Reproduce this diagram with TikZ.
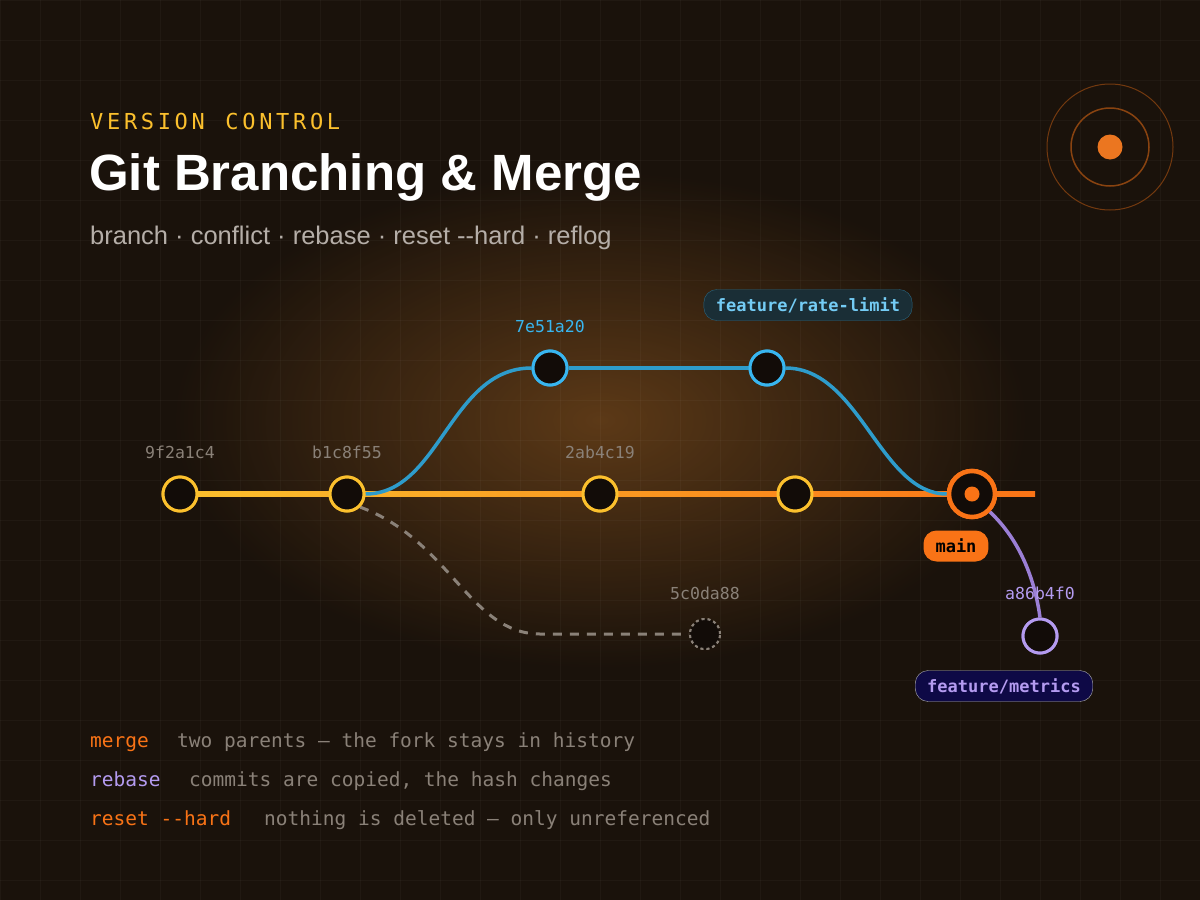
\documentclass[tikz,border=0pt]{standalone}
\usepackage{fontspec}
\setmainfont{Liberation Sans}
\setmonofont{DejaVu Sans Mono}
\usetikzlibrary{shadings}
\definecolor{bg}{HTML}{1A120B}
\definecolor{yel}{HTML}{FBC02D}
\definecolor{org}{HTML}{F97316}
\definecolor{blu}{HTML}{38B6F0}
\definecolor{bluL}{HTML}{2E9CCB}
\definecolor{pur}{HTML}{B49BF0}
\definecolor{purL}{HTML}{9B7FD6}
\definecolor{gry}{HTML}{8A8178}
\definecolor{subc}{HTML}{B5AEA8}
\definecolor{fillc}{HTML}{120C08}
\begin{document}
\begin{tikzpicture}[x=1pt,y=-1pt,
 commit/.style={circle,draw=#1,line width=3pt,fill=fillc,minimum size=34pt,inner sep=0pt},
 hash/.style={font=\ttfamily\fontsize{16.5}{19}\selectfont,text=#1},
 pill/.style={rounded corners=13pt,font=\ttfamily\bfseries\fontsize{17}{20}\selectfont,inner xsep=12pt,minimum height=31pt}]
\useasboundingbox (0,0) rectangle (1200,900);
\fill[bg] (0,0) rectangle (1200,900);
\shade[inner color=orange!30!brown!60!bg, outer color=bg, opacity=0.6] (600,420) ellipse (430 and 250);
\foreach \i in {0,40,...,1200}{\draw[white,opacity=0.03] (\i,0)--(\i,900);}
\foreach \i in {0,40,...,900}{\draw[white,opacity=0.03] (0,\i)--(1200,\i);}
% titles
\node[anchor=west,text=yel,font=\fontsize{22}{26}\selectfont\ttfamily,inner sep=0pt] (kick) at (90,121) {V\,E\,R\,S\,I\,O\,N\, \,C\,O\,N\,T\,R\,O\,L};
\node[anchor=west,text=white,font=\fontsize{51}{56}\selectfont\bfseries,inner sep=0pt] (title) at (89,177) {Git Branching \& Merge};
\node[anchor=west,text=subc,font=\fontsize{25.5}{28}\selectfont,inner sep=0pt] (sub) at (90,238) {branch · conflict · rebase · reset -{}-hard · reflog};
% target
\node[circle,draw=org!40!bg,line width=1pt,minimum size=126pt] (t1) at (1110,147) {};
\node[circle,draw=org!50!bg,line width=1.5pt,minimum size=78pt] (t2) at (1110,147) {};
\node[circle,fill=org!75!brown,minimum size=25pt,inner sep=0pt] (t3) at (1110,147) {};
% nodes
\node[commit=yel] (c1) at (180,494) {};
\node[commit=yel] (c2) at (347,494) {};
\node[commit=yel] (c3) at (600,494) {};
\node[commit=yel] (c4) at (795,494) {};
\node[commit=blu] (b1) at (550,368) {};
\node[commit=blu] (b2) at (767,368) {};
\node[circle,draw=gry,dashed,line width=2pt,fill=fillc,minimum size=30pt] (d1) at (705,634) {};
\node[commit=pur] (p1) at (1040,636) {};
\node[circle,draw=org,line width=4.5pt,fill=fillc,minimum size=46pt,inner sep=0pt] (m) at (972,494) {};
\coordinate (e) at (1035,494);
% edges
\shade[left color=yel,right color=org] (180,491.5) rectangle (1035,496.5);
\draw[bluL,line width=3.5pt] (c2.east) .. controls (440,494) and (450,368) .. (b1.west);
\draw[bluL,line width=3.5pt] (b1) -- (b2);
\draw[bluL,line width=3.5pt] (b2.east) .. controls (860,368) and (880,494) .. (m.west);
\draw[gry,line width=3pt,dash pattern=on 9pt off 8pt] (c2.south east) .. controls (450,540) and (470,634) .. (540,634) -- (d1.west);
\draw[purL,line width=3.5pt] (m.south east) .. controls (1020,540) and (1035,580) .. (p1.north);
% redraw commits on top
\foreach \n in {c1,c2,c3,c4}{\node[commit=yel] at (\n) {};}
\foreach \n in {b1,b2}{\node[commit=blu] at (\n) {};}
\node[commit=pur] at (p1) {};
\node[circle,draw=gry,dashed,line width=2pt,fill=fillc,minimum size=30pt] at (d1) {};
\node[circle,draw=org,line width=4.5pt,fill=fillc,minimum size=46pt,inner sep=0pt] at (m) {};
\node[circle,fill=org,minimum size=15pt,inner sep=0pt] (md) at (m) {};
% labels
\node[hash=gry] (l1) at (180,452) {9f2a1c4};
\node[hash=gry] (l2) at (347,452) {b1c8f55};
\node[hash=gry] (l3) at (600,452) {2ab4c19};
\node[hash=blu] (l4) at (550,326) {7e51a20};
\node[hash=gry] (l5) at (705,593) {5c0da88};
\node[hash=pur] (l6) at (1040,593) {a86b4f0};
\node[pill,fill=blu!20!fillc,draw=blu!50!bg,text=blu!70!white] (fr) at (808,305) {feature/rate-limit};
\node[pill,fill=org,text=black] (mn) at (956,546) {main};
\node[pill,fill=blue!25!fillc,draw=gray!60,text=pur] (fm) at (1004,686) {feature/metrics};
% legend
\begin{scope}[font=\ttfamily\fontsize{19.5}{22}\selectfont]
\node[anchor=base west,text=org,inner sep=0pt] (g1) at (90,747) {merge};
\node[anchor=base west,text=gry,inner sep=0pt] (h1) at (177,747) {two parents — the fork stays in history};
\node[anchor=base west,text=pur,inner sep=0pt] (g2) at (90,786) {rebase};
\node[anchor=base west,text=gry,inner sep=0pt] (h2) at (189,786) {commits are copied, the hash changes};
\node[anchor=base west,text=org,inner sep=0pt] (g3) at (90,825) {reset -{}-hard};
\node[anchor=base west,text=gry,inner sep=0pt] (h3) at (264,825) {nothing is deleted — only unreferenced};
\end{scope}
\end{tikzpicture}
\end{document}
